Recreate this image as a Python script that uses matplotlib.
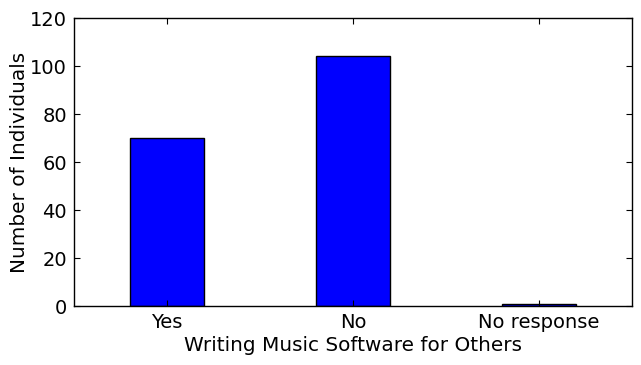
import matplotlib
matplotlib.use('Agg')
import matplotlib.pyplot as plt
import numpy as np

categories = ['Yes', 'No', 'No response']
counts = [70, 104, 1]

fig = plt.figure(figsize=(6.41, 3.65), dpi=100)
ax = fig.add_axes([74/641., 1-306/365., (632-74)/641., (306-18)/365.])
x = np.arange(len(categories))
ax.bar(x, counts, width=0.4, color='#0000ff', edgecolor='black', linewidth=1.0)
ax.set_xlim(-0.5, 2.5)
ax.set_ylim(0, 120)
ax.set_xticks(x)
ax.set_xticklabels(categories)
ax.set_yticks(np.arange(0, 121, 20))
ax.tick_params(direction='in', top=True, right=True, labelsize=14, length=4, width=0.8, pad=5)
ax.set_xlabel('Writing Music Software for Others', fontsize=14.4, labelpad=3)
ax.set_ylabel('Number of Individuals', fontsize=14.4, labelpad=1)
for s in ax.spines.values():
	s.set_linewidth(1.0)
fig.savefig('out.png', dpi=100)
